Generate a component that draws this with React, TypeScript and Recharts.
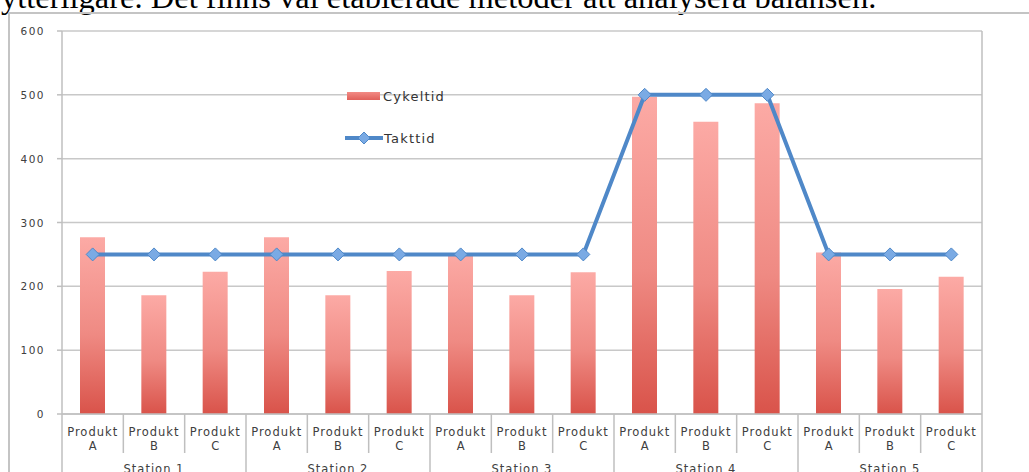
import React from "react";
import {
  Bar,
  CartesianGrid,
  ComposedChart,
  Legend,
  Line,
  XAxis,
  YAxis,
} from "recharts";

const products = ["A", "B", "C", "A", "B", "C", "A", "B", "C", "A", "B", "C", "A", "B", "C"];
const stations = ["Station 1", "Station 2", "Station 3", "Station 4", "Station 5"];
const cykeltid = [277, 186, 223, 277, 186, 224, 252, 186, 222, 497, 458, 487, 253, 196, 215];
const takttid = [250, 250, 250, 250, 250, 250, 250, 250, 250, 500, 500, 500, 250, 250, 250];
const yTicks = [0, 100, 200, 300, 400, 500, 600];

const data = products.map((p, i) => ({
  key: `${stations[Math.floor(i / 3)]}-${p}`,
  produkt: p,
  station: stations[Math.floor(i / 3)],
  cykeltid: cykeltid[i],
  takttid: takttid[i],
}));

const font = "'DejaVu Sans', sans-serif";
const textColor = "#404040";
const lineColor = "#bfbfbf";
const blue = "#4f88c8";

function YTick(props: any) {
  const { x, y, payload, textAnchor } = props;
  return (
    <text
      x={x}
      y={y}
      dy={4}
      textAnchor={textAnchor}
      fontFamily={font}
      fontSize={10.5}
      letterSpacing={1.5}
      fill={textColor}
    >
      {payload.value}
    </text>
  );
}

function ProductTick(props: any) {
  const { x, y, payload, index } = props;
  const half = payload && payload.offset > 0 ? payload.offset : 920 / 15 / 2;
  const i = index ?? 0;
  const first = i % 3 === 0;
  return (
    <g>
      <line x1={x - half} x2={x - half} y1={y} y2={first ? y + 80 : y + 39} stroke={lineColor} strokeWidth={1.5} />
      {i === products.length - 1 && (
        <line x1={x + half} x2={x + half} y1={y} y2={y + 80} stroke={lineColor} strokeWidth={1.5} />
      )}
      <text x={x} y={y + 22} textAnchor="middle" fontFamily={font} fontSize={11.5} letterSpacing={1} fill={textColor}>
        Produkt
      </text>
      <text x={x} y={y + 36} textAnchor="middle" fontFamily={font} fontSize={11.5} fill={textColor}>
        {payload.value}
      </text>
      {i % 3 === 1 && (
        <text x={x} y={y + 59} textAnchor="middle" fontFamily={font} fontSize={11.5} letterSpacing={1} fill={textColor}>
          {data[i].station}
        </text>
      )}
    </g>
  );
}

function Diamond(props: any) {
  const { cx, cy } = props;
  if (cx == null || cy == null) return null;
  const r = 6.5;
  return (
    <polygon
      points={`${cx},${cy - r} ${cx + r},${cy} ${cx},${cy + r} ${cx - r},${cy}`}
      fill="#7aaae4"
      stroke={blue}
      strokeWidth={1}
    />
  );
}

function LegendBox() {
  return (
    <div style={{ fontFamily: font, fontSize: 13, letterSpacing: 1.2, color: "#333" }}>
      <div style={{ display: "flex", alignItems: "center", height: 20 }}>
        <svg width={36} height={10} style={{ marginRight: 2 }}>
          <rect x={2} y={1} width={33} height={8} fill="url(#legendRed)" />
          <defs>
            <linearGradient id="legendRed" x1="0" y1="0" x2="0" y2="1">
              <stop offset="0%" stopColor="#f28a84" />
              <stop offset="100%" stopColor="#e0605a" />
            </linearGradient>
          </defs>
        </svg>
        <span>Cykeltid</span>
      </div>
      <div style={{ display: "flex", alignItems: "center", height: 20, marginTop: 22 }}>
        <svg width={38} height={14} style={{ marginRight: 1 }}>
          <line x1={0} x2={38} y1={7} y2={7} stroke={blue} strokeWidth={4} />
          <polygon points="19,1 25,7 19,13 13,7" fill="#7aaae4" stroke={blue} strokeWidth={1} />
        </svg>
        <span>Takttid</span>
      </div>
    </div>
  );
}

export default function App() {
  return (
    <div
      style={{
        position: "fixed",
        left: 0,
        top: 0,
        width: 1029,
        height: 472,
        overflow: "hidden",
        background: "#fff",
      }}
    >
      <div
        style={{
          position: "absolute",
          left: 1,
          top: -19,
          fontFamily: "'Liberation Serif', 'Times New Roman', serif",
          fontSize: 32.5,
          lineHeight: "32px",
          whiteSpace: "nowrap",
          color: "#000",
        }}
      >
        ytterligare. Det finns väl etablerade metoder att analysera balansen.
      </div>
      <div
        style={{
          position: "absolute",
          left: 8,
          top: 12,
          width: 1040,
          height: 520,
          borderLeft: "2px solid #c4c4c4",
          borderTop: "2px solid #c4c4c4",
          background: "transparent",
        }}
      />
      <div style={{ position: "absolute", left: 0, top: 0 }}>
        <ComposedChart
          width={1029}
          height={486}
          data={data}
          margin={{ top: 31, right: 0, bottom: 0, left: 0 }}
        >
          <defs>
            <linearGradient id="barRed" x1="0" y1="0" x2="0" y2="1">
              <stop offset="0%" stopColor="#fcaaa5" />
              <stop offset="55%" stopColor="#ef8a83" />
              <stop offset="100%" stopColor="#d9534a" />
            </linearGradient>
          </defs>
          <CartesianGrid yAxisId="left" vertical={false} stroke="#c8c8c8" strokeWidth={1.5} />
          <XAxis
            dataKey="produkt"
            interval={0}
            height={72}
            tickSize={0}
            tickMargin={0}
            tickLine={false}
            axisLine={{ stroke: lineColor, strokeWidth: 1.5 }}
            tick={<ProductTick />}
          />
          <YAxis
            yAxisId="left"
            width={62}
            domain={[0, 600]}
            ticks={yTicks}
            tickSize={5}
            tickMargin={12}
            axisLine={{ stroke: lineColor, strokeWidth: 1.5 }}
            tickLine={{ stroke: lineColor, strokeWidth: 1.5 }}
            tick={<YTick />}
          />
          <YAxis
            yAxisId="right"
            orientation="right"
            width={47}
            domain={[0, 600]}
            ticks={yTicks}
            tickSize={5}
            tickMargin={10}
            axisLine={{ stroke: lineColor, strokeWidth: 1.5 }}
            tickLine={{ stroke: lineColor, strokeWidth: 1.5 }}
            tick={<YTick />}
          />
          <Legend
            layout="vertical"
            align="center"
            verticalAlign="middle"
            content={<LegendBox />}
            wrapperStyle={{ left: 345, top: 86, width: 150 }}
          />
          <Bar
            yAxisId="left"
            dataKey="cykeltid"
            name="Cykeltid"
            barSize={25}
            fill="url(#barRed)"
            isAnimationActive={false}
          />
          <Line
            yAxisId="left"
            dataKey="takttid"
            name="Takttid"
            type="linear"
            stroke={blue}
            strokeWidth={4}
            dot={<Diamond />}
            activeDot={false}
            isAnimationActive={false}
          />
        </ComposedChart>
      </div>
    </div>
  );
}
